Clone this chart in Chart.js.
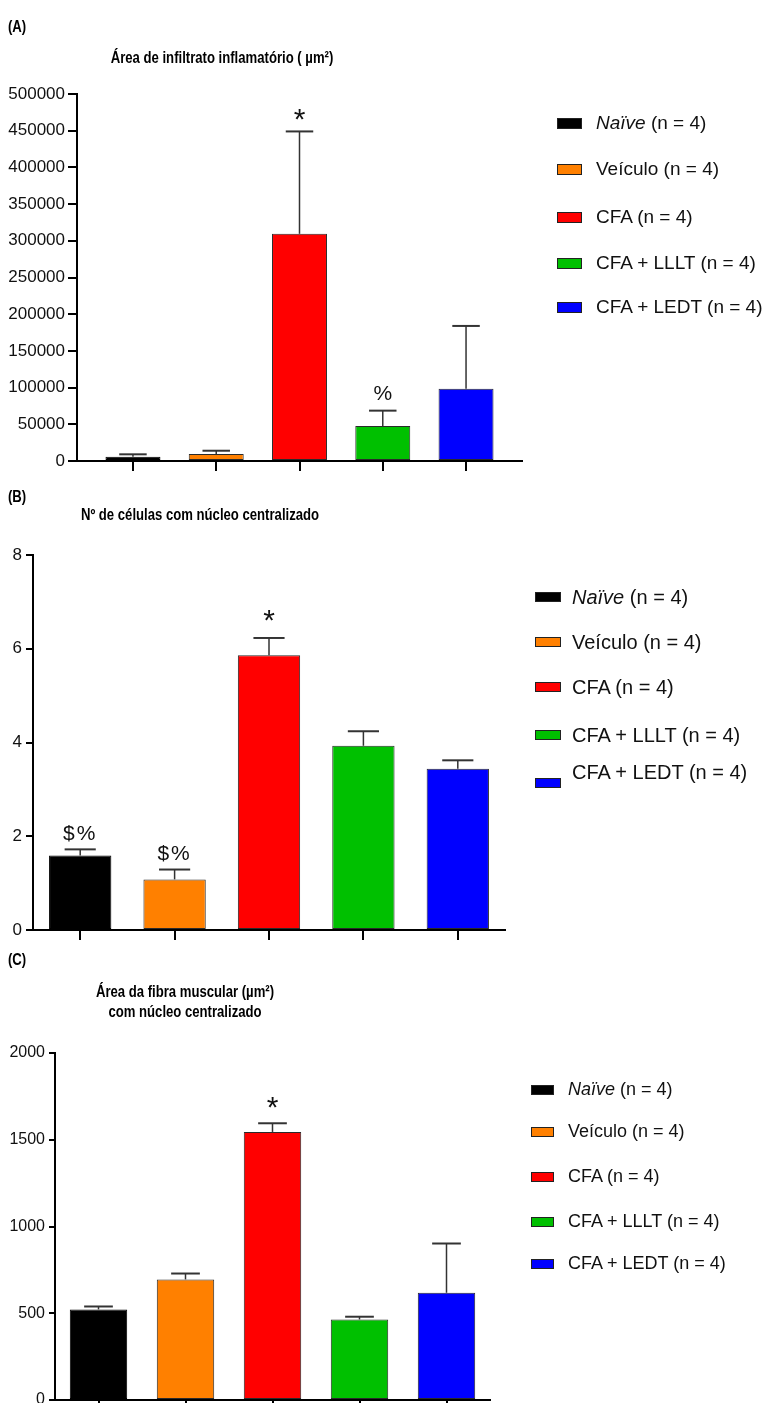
<!DOCTYPE html>
<html>
<head>
<meta charset="utf-8">
<script src="https://cdn.jsdelivr.net/npm/chart.js@4/dist/chart.umd.min.js"></script>
<style>
  html, body { margin: 0; padding: 0; background: #fff; }
  #page { position: relative; width: 769px; height: 1403px; overflow: hidden; background: #fff; }
  .panel { position: absolute; left: 0; width: 769px; }
  .panel canvas { display: block; }
  .head { position: absolute; font-family: "Liberation Sans Narrow", "Liberation Sans", Arial, sans-serif;
          font-weight: bold; font-size: 16px; line-height: 20px; color: #000; white-space: nowrap; }
  .head.center { text-align: center; transform-origin: 50% 50%; }
  .head.left { transform-origin: 0 50%; }
  .head.squeeze { font-family: "Liberation Sans", Arial, sans-serif; }
  .head.center.squeeze { transform: scaleX(0.82); }
  .head.left.squeeze { transform: scaleX(0.82); }
  .lg-sw { position: absolute; box-sizing: border-box; border: 1px solid #222; }
  .lg-tx { position: absolute; white-space: nowrap; color: #111; font-family: "Liberation Sans", Arial, sans-serif; }
</style>
</head>
<body>
<div id="page">
  <div class="panel" style="top:0px;height:480px"><canvas id="chartA" width="769" height="480"></canvas></div>
  <div class="panel" style="top:480px;height:465px"><canvas id="chartB" width="769" height="465"></canvas></div>
  <div class="panel" style="top:945px;height:475px"><canvas id="chartC" width="769" height="475"></canvas></div>

  <div class="head left" style="left:8px;top:17px">(A)</div>
  <div class="head center" style="left:22px;width:400px;top:48px">Área de infiltrato inflamatório ( µm²)</div>

  <div class="head left" style="left:8px;top:487px">(B)</div>
  <div class="head center" style="left:0px;width:400px;top:505px">Nº de células com núcleo centralizado</div>

  <div class="head left" style="left:8px;top:950px">(C)</div>
  <div class="head center" style="left:-15px;width:400px;top:982px">Área da fibra muscular (µm²)<br>com núcleo centralizado</div>
</div>

<script>
// ---------- groups shared by the three panels ----------
const groups      = ['Naïve', 'Veículo', 'CFA', 'CFA + LLLT', 'CFA + LEDT'];
const groupSizes  = [4, 4, 4, 4, 4];
const groupColors = ['#000000', '#FF8000', '#FF0000', '#00C000', '#0000FF'];

// (A) inflammatory infiltrate area, µm² (mean and SEM)
const infiltrateMean  = [5900, 9500, 309500, 47700, 98600];
const infiltrateSem   = [3200, 4500, 139500, 20900, 85400];
const infiltrateMarks = ['', '', '*', '%', ''];
const infiltrateTicks = [0, 50000, 100000, 150000, 200000, 250000, 300000, 350000, 400000, 450000, 500000];

// (B) number of cells with centralized nucleus
const nucleiMean  = [1.59, 1.08, 5.86, 3.93, 3.44];
const nucleiSem   = [0.13, 0.21, 0.37, 0.31, 0.18];
const nucleiMarks = ['$%', '$%', '*', '', ''];
const nucleiTicks = [0, 2, 4, 6, 8];

// (C) muscle fibre area with centralized nucleus, µm²
const fiberMean  = [522, 695, 1545, 464, 618];
const fiberSem   = [17, 34, 50, 16, 284];
const fiberMarks = ['', '', '*', '', ''];
const fiberTicks = [0, 500, 1000, 1500, 2000];

// ---------- narrow heading font (fallback: squeezed regular) ----------
(function () {
  const c = document.createElement('canvas').getContext('2d');
  c.font = 'bold 40px monospace';
  const w0 = c.measureText('Área de infiltrato').width;
  c.font = 'bold 40px "Liberation Sans Narrow", monospace';
  const w1 = c.measureText('Área de infiltrato').width;
  if (Math.abs(w1 - w0) < 0.5) {
    document.querySelectorAll('.head').forEach(el => el.classList.add('squeeze'));
  }
})();

// ---------- error bars (mean + SEM, upper only) and significance marks ----------
const errorBarPlugin = {
  id: 'errorBars',
  afterDatasetsDraw(chart, args, opts) {
    const { ctx } = chart;
    const yScale = chart.scales.y;
    const meta = chart.getDatasetMeta(0);
    meta.data.forEach((bar, i) => {
      const mean = opts.mean[i];
      const top = yScale.getPixelForValue(mean + opts.sem[i]);
      const half = bar.width / 4;
      ctx.save();
      ctx.strokeStyle = '#333';
      ctx.lineWidth = 1.5;
      ctx.beginPath();
      ctx.moveTo(bar.x, bar.y);
      ctx.lineTo(bar.x, top);
      ctx.stroke();
      ctx.lineWidth = 2;
      ctx.beginPath();
      ctx.moveTo(bar.x - half, top);
      ctx.lineTo(bar.x + half, top);
      ctx.stroke();

      const mark = opts.marks[i];
      if (mark) {
        const size = mark === '*' ? 30 : 21;
        ctx.font = size + 'px "Liberation Sans", Arial, sans-serif';
        ctx.letterSpacing = mark.length > 1 ? '2px' : '0px';
        ctx.fillStyle = '#111';
        ctx.textAlign = 'center';
        ctx.textBaseline = 'alphabetic';
        const m = ctx.measureText(mark);
        const glyphMid = (m.actualBoundingBoxAscent - m.actualBoundingBoxDescent) / 2;
        const cy = top - opts.markGap[i];
        ctx.fillText(mark, bar.x, cy + glyphMid);
      }
      ctx.restore();
    });
  }
};

function makePanel(p) {
  const ctx = document.getElementById(p.canvasId).getContext('2d');
  return new Chart(ctx, {
    type: 'bar',
    data: {
      datasets: [{
        data: p.mean.map((v, i) => ({ x: i, y: v })),
        backgroundColor: groupColors,
        borderColor: groupColors.map(c => (c === '#000000' ? '#000' : '#2a2a2a')),
        borderWidth: 1,
        borderSkipped: false,
        categoryPercentage: 1,
        barPercentage: 0.66
      }]
    },
    options: {
      responsive: false,
      animation: false,
      events: [],
      layout: { padding: { left: 0, top: p.padTop, right: p.padRight, bottom: p.padBottom } },
      plugins: {
        legend: { display: false },
        tooltip: { enabled: false },
        title: { display: false },
        errorBars: { mean: p.mean, sem: p.sem, marks: p.marks, markGap: p.markGap }
      },
      scales: {
        x: {
          type: 'linear',
          min: -p.edge,
          max: groups.length - 1 + p.edge,
          offset: false,
          afterBuildTicks: s => { s.ticks = groups.map((g, i) => ({ value: i })); },
          afterFit: s => { s.height = p.xHeight; },
          ticks: { display: false },
          grid: { offset: false, drawOnChartArea: false, drawTicks: true, tickLength: 10,
                  tickWidth: 2, tickColor: '#000', color: '#000', lineWidth: 2 },
          border: { display: true, color: '#000', width: 2 }
        },
        y: {
          type: 'linear',
          min: p.ticks[0],
          max: p.ticks[p.ticks.length - 1],
          afterBuildTicks: s => { s.ticks = p.ticks.map(v => ({ value: v })); },
          afterFit: s => { s.width = p.axisX; },
          ticks: {
            color: '#111',
            font: { family: '"Liberation Sans", Arial, sans-serif', size: p.tickSize },
            padding: p.tickPad,
            callback: v => String(v)
          },
          grid: { drawOnChartArea: false, drawTicks: true, tickLength: p.tickLen,
                  tickWidth: 2, tickColor: '#000', color: '#000', lineWidth: 2 },
          border: { display: true, color: '#000', width: 2 }
        }
      }
    },
    plugins: [errorBarPlugin]
  });
}

// legend drawn as page text, built from the group arrays
function makeLegend(l) {
  const page = document.getElementById('page');
  groups.forEach((name, i) => {
    const cy = l.rows[i];
    const sw = document.createElement('div');
    sw.className = 'lg-sw';
    sw.style.left = l.swX + 'px';
    sw.style.top = (cy - l.swH / 2) + 'px';
    sw.style.width = l.swW + 'px';
    sw.style.height = l.swH + 'px';
    sw.style.background = groupColors[i];
    page.appendChild(sw);

    const tx = document.createElement('div');
    tx.className = 'lg-tx';
    tx.style.left = l.txX + 'px';
    const ty = cy + (l.textDy ? l.textDy[i] : 0);
    tx.style.top = (ty - l.fs * 0.6) + 'px';
    tx.style.fontSize = l.fs + 'px';
    tx.style.lineHeight = (l.fs * 1.2) + 'px';
    const em = document.createElement(name === 'Naïve' ? 'i' : 'span');
    em.textContent = name;
    tx.appendChild(em);
    tx.appendChild(document.createTextNode(' (n = ' + groupSizes[i] + ')'));
    page.appendChild(tx);
  });
}

makePanel({
  canvasId: 'chartA', mean: infiltrateMean, sem: infiltrateSem, marks: infiltrateMarks,
  markGap: [0, 0, 17, 18, 0], ticks: infiltrateTicks,
  padTop: 94, padRight: 247, padBottom: 7, xHeight: 12, axisX: 77, edge: 0.672,
  tickSize: 17, tickLen: 9, tickPad: 3
});
makePanel({
  canvasId: 'chartB', mean: nucleiMean, sem: nucleiSem, marks: nucleiMarks,
  markGap: [16, 16, 22, 0, 0], ticks: nucleiTicks,
  padTop: 75, padRight: 264, padBottom: 1, xHeight: 14, axisX: 33, edge: 0.5,
  tickSize: 17, tickLen: 7, tickPad: 4
});
makePanel({
  canvasId: 'chartC', mean: fiberMean, sem: fiberSem, marks: fiberMarks,
  markGap: [0, 0, 21, 0, 0], ticks: fiberTicks,
  padTop: 108, padRight: 279, padBottom: 6, xHeight: 14, axisX: 55, edge: 0.5,
  tickSize: 16, tickLen: 6, tickPad: 4
});

makeLegend({ swX: 557, swW: 25, swH: 11, txX: 596, fs: 19, rows: [123, 169, 217, 263, 307] });
makeLegend({ swX: 535, swW: 26, swH: 10, txX: 572, fs: 20, rows: [597, 642, 687, 735, 783],
             textDy: [0, 0, 0, 0, -11] });
makeLegend({ swX: 531, swW: 23, swH: 10, txX: 568, fs: 18, rows: [1090, 1132, 1177, 1222, 1264] });
</script>
</body>
</html>
